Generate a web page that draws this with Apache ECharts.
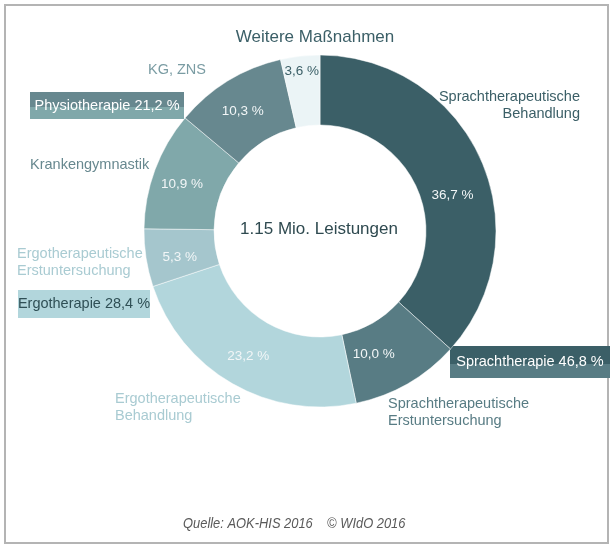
<!DOCTYPE html>
<html>
<head>
<meta charset="utf-8">
<script src="https://cdn.jsdelivr.net/npm/echarts@6/dist/echarts.min.js"></script>
<style>
  html, body { margin: 0; padding: 0; background: #fff; }
  #chart { width: 615px; height: 547px; }
</style>
</head>
<body>
<div id="chart"></div>
<script>
// Anteile der einzelnen Leistungen (Prozent), im Uhrzeigersinn ab 12 Uhr
const names = [
  'Sprachtherapeutische\nBehandlung',
  'Sprachtherapeutische\nErstuntersuchung',
  'Ergotherapeutische\nBehandlung',
  'Ergotherapeutische\nErstuntersuchung',
  'Krankengymnastik',
  'KG, ZNS',
  'Sonstige'
];
const values = [36.7, 10.0, 23.2, 5.3, 10.9, 10.3, 3.6];
const colors = ['#3b5f67', '#587c84', '#b2d6dc', '#a5c6cd', '#80a8aa', '#67888f', '#ebf4f6'];
const nameColors = ['#3b5f67', '#587c84', '#a9cbd2', '#a9cbd2', '#67888f', '#7a9ca3', '#3b5f67'];

// Gruppen
const groupNames = ['Physiotherapie', 'Ergotherapie', 'Sprachtherapie'];
const groupValues = [21.2, 28.4, 46.8];

const fmt = v => v.toFixed(1).replace('.', ',') + ' %';

// Lage der Beschriftungen (Pixel)
const nameLayout = [
  { x: 580, y: 105, align: 'right' },
  { x: 388, y: 412, align: 'left' },
  { x: 115, y: 407, align: 'left' },
  { x: 17, y: 262, align: 'left' },
  { x: 30, y: 165, align: 'left' },
  { x: 148, y: 70, align: 'left' },
  null
];
const pctShift = [[1, 23], [-18, -2], [0, 0], [2, 4], [-3, 3], [-2, 3], [-2, -17]];

const chart = echarts.init(document.getElementById('chart'));
const font = '"Liberation Sans", Arial, sans-serif';

function box(i, x, y, w, h, top, bottom, textColor) {
  return {
    type: 'group',
    x: x, y: y,
    children: [
      {
        type: 'rect',
        shape: { x: 0, y: 0, width: w, height: h },
        style: {
          fill: new echarts.graphic.LinearGradient(0, 0, 0, 1, [
            { offset: 0, color: top }, { offset: 0.55, color: top },
            { offset: 0.55, color: bottom }, { offset: 1, color: bottom }
          ])
        }
      },
      {
        type: 'text',
        x: w / 2, y: h / 2,
        style: {
          text: groupNames[i] + ' ' + fmt(groupValues[i]),
          fill: textColor,
          font: '14.5px ' + font,
          align: 'center', verticalAlign: 'middle'
        }
      }
    ]
  };
}

const option = {
  backgroundColor: '#fff',
  animation: false,
  title: {
    text: 'Weitere Maßnahmen',
    left: 310, top: 24,
    textAlign: 'center',
    textStyle: { color: '#3b5f67', fontSize: 17, fontWeight: 'normal', fontFamily: font }
  },
  graphic: [
    {
      type: 'rect',
      shape: { x: 5, y: 5, width: 603, height: 538 },
      style: { fill: 'none', stroke: '#b4b4b4', lineWidth: 2 },
      z: 0
    },
    {
      type: 'text', x: 319, y: 229,
      style: { text: '1.15 Mio. Leistungen', fill: '#2f4a50', font: '17px ' + font, align: 'center', verticalAlign: 'middle' },
      z: 10
    },
    box(0, 30, 92, 154, 27, '#67888f', '#80a8aa', '#ffffff'),
    box(1, 18, 290, 132, 28, '#b2d6dc', '#b2d6dc', '#2f4f55'),
    box(2, 450, 346, 160, 32, '#3b5f67', '#587c84', '#ffffff'),
    {
      type: 'text', x: 183, y: 516, scaleX: 0.86,
      style: {
        text: 'Quelle: AOK-HIS 2016    © WIdO 2016',
        fill: '#5a5a5a',
        font: 'italic 15px ' + font
      }
    }
  ],
  series: [
    {
      type: 'pie',
      center: [320, 231],
      radius: [106, 176],
      startAngle: 90,
      clockwise: true,
      silent: true,
      itemStyle: { borderColor: '#ffffff', borderWidth: 0.5 },
      label: {
        position: 'inside',
        formatter: p => fmt(p.value),
        fontSize: 13.5,
        fontFamily: font
      },
      labelLayout: p => ({ dx: pctShift[p.dataIndex][0], dy: pctShift[p.dataIndex][1] }),
      data: values.map((v, i) => ({
        name: names[i],
        value: v,
        itemStyle: { color: colors[i] },
        label: { color: i === 6 ? '#3b5f67' : '#f2f6f7' }
      }))
    },
    {
      // unsichtbare Kopie nur für die Namen
      type: 'pie',
      center: [320, 231],
      radius: [106, 176],
      startAngle: 90,
      clockwise: true,
      silent: true,
      itemStyle: { color: 'rgba(0,0,0,0)' },
      labelLine: { show: false },
      label: {
        position: 'inside',
        formatter: p => p.name,
        fontSize: 14.5,
        lineHeight: 17,
        fontFamily: font
      },
      labelLayout: p => {
        const l = nameLayout[p.dataIndex];
        if (!l) return { x: -999, y: -999 };
        return { x: l.x, y: l.y, align: l.align, verticalAlign: 'middle' };
      },
      data: values.map((v, i) => ({
        name: names[i],
        value: v,
        label: { color: nameColors[i], show: i !== 6 }
      }))
    }
  ]
};

chart.setOption(option);
</script>
</body>
</html>
